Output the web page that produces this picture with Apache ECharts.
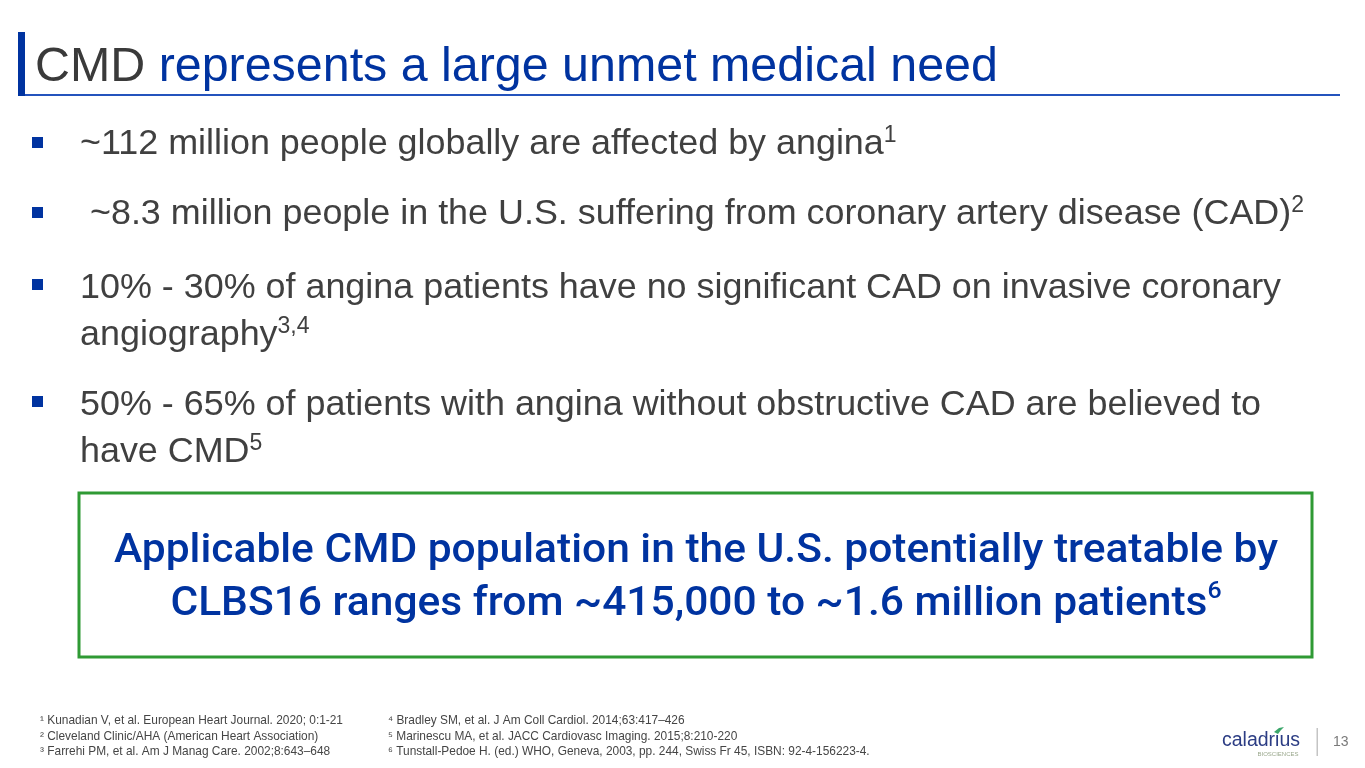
<!DOCTYPE html>
<html>
	<head>
		<meta charset="UTF-8">
		<script type="text/javascript" src="https://cdn.jsdelivr.net/npm/echarts@6.0.0/dist/echarts.min.js"></script>
		<title>CMD represents a large unmet medical need</title>
		<style>
			html, body { margin: 0; padding: 0; background: #fff; }
			#main { width: 1365px; height: 768px; }
		</style>
	</head>
	<body>
		<div id="main"></div>
		<script type="text/javascript">
			// slide text
			var titleKey = 'CMD';
			var titleRest = 'represents a large unmet medical need';
			var bulletLines = [
				['~112 million people globally are affected by angina'],
				[' ~8.3 million people in the U.S. suffering from coronary artery disease (CAD)'],
				['10% - 30% of angina patients have no significant CAD on invasive coronary', 'angiography'],
				['50% - 65% of patients with angina without obstructive CAD are believed to', 'have CMD']
			];
			var bulletRefs = ['1', '2', '3,4', '5'];
			var calloutLines = [
				'Applicable CMD population in the U.S. potentially treatable by',
				'CLBS16 ranges from ~415,000 to ~1.6 million patients'
			];
			var calloutRef = '6';
			var footLeft = [
				'¹ Kunadian V, et al. European Heart Journal. 2020; 0:1-21',
				'² Cleveland Clinic/AHA (American Heart Association)',
				'³ Farrehi PM, et al. Am J Manag Care. 2002;8:643–648'
			];
			var footRight = [
				'⁴ Bradley SM, et al. J Am Coll Cardiol. 2014;63:417–426',
				'⁵ Marinescu MA, et al. JACC Cardiovasc Imaging. 2015;8:210-220',
				'⁶ Tunstall-Pedoe H. (ed.) WHO, Geneva, 2003, pp. 244, Swiss Fr 45, ISBN: 92-4-156223-4.'
			];
			var logoName = 'caladrius';
			var logoSub = 'BIOSCIENCES';
			var pageNo = '13';

			// layout
			var BLUE = '#0033a0', GREY = '#404040', GREEN = '#2f9a34';
			var SANS = "'Liberation Sans', Arial, sans-serif";
			var COND = "Roboto, 'Liberation Sans', sans-serif";
			var bulletY = [144, 214, 288, 405];   // cap centre of first line
			var bulletDot = [142, 212, 284, 401];
			var bulletGap = 47;

			var ctx = document.createElement('canvas').getContext('2d');
			function textWidth(text, weight, size, family) {
				ctx.font = weight + ' ' + size + 'px ' + family;
				return ctx.measureText(text).width;
			}
			function fit(text, weight, family, width) {
				return Math.round(100 * width / textWidth(text, weight, 100, family) * 10) / 10;
			}

			var titleSize = fit(titleKey + ' ' + titleRest, 'normal', SANS, 963);
			var bodySize = fit(bulletLines[2][0], 'normal', SANS, 1202);
			var footSize = fit(footRight[2], 'normal', SANS, 484);
			// callout: medium weight, squeezed horizontally to the condensed width
			var boxSize = 41;
			var boxScale = 1164 / textWidth(calloutLines[0], '500', boxSize, COND);

			var graphic = [];

			// title
			graphic.push({ type: 'rect', shape: { x: 18, y: 32, width: 7, height: 64 }, style: { fill: BLUE } });
			graphic.push({ type: 'rect', shape: { x: 25, y: 94, width: 1315, height: 2 }, style: { fill: '#2453bd' } });
			graphic.push({
				type: 'text', x: 35, y: 68,
				style: {
					text: '{k|' + titleKey + '}{r| ' + titleRest + '}',
					verticalAlign: 'middle',
					rich: {
						k: { fontFamily: SANS, fontSize: titleSize, fill: '#3a3a3a', lineHeight: 50 },
						r: { fontFamily: SANS, fontSize: titleSize, fill: BLUE, lineHeight: 50 }
					}
				}
			});

			// bullets
			var supSize = Math.round(bodySize * 0.64);
			bulletLines.forEach(function (lines, i) {
				graphic.push({
					type: 'rect',
					shape: { x: 32, y: bulletDot[i] - 5, width: 11, height: 11 },
					style: { fill: BLUE }
				});
				lines.forEach(function (line, j) {
					var last = j === lines.length - 1;
					graphic.push({
						type: 'text', x: 80, y: bulletY[i] + j * bulletGap,
						style: {
							text: '{m|' + line + '}' + (last ? '{s|' + bulletRefs[i] + '}' : ''),
							verticalAlign: 'middle',
							rich: {
								m: { fontFamily: SANS, fontSize: bodySize, fill: GREY, lineHeight: 40 },
								s: { fontFamily: SANS, fontSize: supSize, fill: GREY, lineHeight: 27, verticalAlign: 'top' }
							}
						}
					});
				});
			});

			// callout box
			graphic.push({
				type: 'rect',
				shape: { x: 79, y: 493, width: 1233, height: 164 },
				style: { fill: '#fff', stroke: GREEN, lineWidth: 3 }
			});
			calloutLines.forEach(function (line, j) {
				var last = j === calloutLines.length - 1;
				graphic.push({
					type: 'text', x: 696, y: 552 + j * 53,
					scaleX: boxScale,
					style: {
						text: '{m|' + line + '}' + (last ? '{s|' + calloutRef + '}' : ''),
						align: 'center',
						verticalAlign: 'middle',
						rich: {
							m: { fontFamily: COND, fontWeight: 500, fontSize: boxSize, fill: BLUE, lineHeight: 50 },
							s: { fontFamily: COND, fontWeight: 500, fontSize: 24, fill: BLUE, lineHeight: 30, verticalAlign: 'top' }
						}
					}
				});
			});

			// footnotes
			[[footLeft, 40], [footRight, 388]].forEach(function (col) {
				col[0].forEach(function (line, j) {
					graphic.push({
						type: 'text', x: col[1], y: 721 + j * 15.5,
						style: { text: line, fontFamily: SANS, fontSize: footSize, fill: '#454545', verticalAlign: 'middle' }
					});
				});
			});

			// logo + page number
			graphic.push({
				type: 'text', x: 1261, y: 741,
				style: { text: logoName, fontFamily: SANS, fontSize: fit(logoName, 'normal', SANS, 78), fill: '#2c3d84', align: 'center', verticalAlign: 'middle' }
			});
			graphic.push({
				type: 'polygon',
				shape: { points: [[1274, 732], [1279, 728], [1284, 727], [1281, 730], [1278, 734]] },
				style: { fill: '#3aa66a' }
			});
			graphic.push({
				type: 'text', x: 1278, y: 754,
				style: { text: logoSub, fontFamily: SANS, fontSize: 6, fill: '#9aa88c', align: 'center', verticalAlign: 'middle' }
			});
			graphic.push({ type: 'rect', shape: { x: 1316.5, y: 728, width: 1.5, height: 28 }, style: { fill: '#c4c4c4' } });
			graphic.push({
				type: 'text', x: 1333, y: 742,
				style: { text: pageNo, fontFamily: SANS, fontSize: 14, fill: '#7a7a7a', verticalAlign: 'middle' }
			});

			var myChart = echarts.init(document.getElementById('main'));
			var option = {
				backgroundColor: '#fff',
				animation: false,
				graphic: graphic
			};
			myChart.setOption(option);
		</script>
	</body>
</html>
